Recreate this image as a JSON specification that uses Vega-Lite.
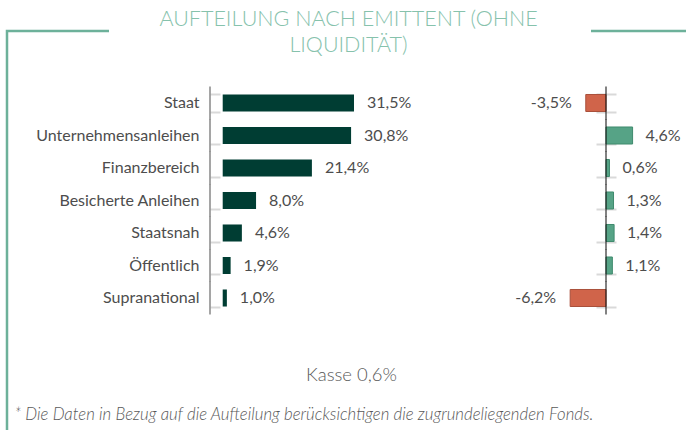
{
  "$schema": "https://vega.github.io/schema/vega-lite/v6.json",
  "width": 679,
  "height": 399,
  "autosize": {"type": "none"},
  "padding": {"left": 7, "top": 31, "right": 0, "bottom": 0},
  "background": "white",
  "title": {
    "text": ["AUFTEILUNG NACH EMITTENT (OHNE", "LIQUIDITÄT)"],
    "anchor": "middle",
    "frame": "group",
    "dx": 2,
    "font": "Lato",
    "fontSize": 21.5,
    "fontWeight": 300,
    "color": "#86C2AC",
    "lineHeight": 26,
    "offset": -25
  },
  "data": {
    "values": [
      {"cat": "Staat", "v": 0.315, "d": -0.035},
      {"cat": "Unternehmensanleihen", "v": 0.308, "d": 0.046},
      {"cat": "Finanzbereich", "v": 0.214, "d": 0.006},
      {"cat": "Besicherte Anleihen", "v": 0.080, "d": 0.013},
      {"cat": "Staatsnah", "v": 0.046, "d": 0.014},
      {"cat": "Öffentlich", "v": 0.019, "d": 0.011},
      {"cat": "Supranational", "v": 0.010, "d": -0.062}
    ]
  },
  "resolve": {
    "scale": {"x": "independent"},
    "axis": {"x": "independent", "y": "independent"}
  },
  "layer": [
    {
      "mark": {"type": "bar", "fill": "#003D33"},
      "encoding": {
        "y": {"field": "cat", "type": "nominal", "sort": null,
          "scale": {"domain": ["Staat", "Unternehmensanleihen", "Finanzbereich", "Besicherte Anleihen", "Staatsnah", "Öffentlich", "Supranational"], "range": [55.75, 283.25], "paddingInner": 0.476, "paddingOuter": 0.238},
          "axis": {"orient": "left", "offset": -203, "title": null, "domain": false, "ticks": false, "tickSize": 0, "labelPadding": 11, "labelFont": "Lato", "labelFontSize": 16, "labelColor": "#4D4D4D", "grid": false}},
        "x": {"field": "v", "type": "quantitative",
          "scale": {"domain": [-0.5175, 1.1115], "nice": false, "zero": false},
          "axis": {"orient": "bottom", "domain": false, "ticks": false, "labels": false, "grid": false,
            "title": "Kasse 0,6%", "titleFont": "Lato", "titleFontWeight": 300, "titleFontSize": 18.5, "titleColor": "#595959",
            "titleX": 344, "titleY": -50, "titleAlign": "center", "titleBaseline": "alphabetic"}},
        "x2": {"datum": 0}
      }
    },
    {
      "mark": {"type": "text", "align": "left", "baseline": "middle", "dx": 13, "font": "Lato", "fontSize": 16, "color": "#4D4D4D"},
      "encoding": {
        "y": {"field": "cat", "type": "nominal", "sort": null,
          "axis": {"orient": "right", "offset": -476, "title": null, "domain": false, "labels": false, "ticks": true, "tickBand": "extent", "tickSize": 10, "tickWidth": 2, "tickColor": "#D9D9D9", "grid": false}},
        "x": {"field": "v", "type": "quantitative",
          "scale": {"domain": [-0.5175, 1.1115], "nice": false, "zero": false},
          "axis": {"orient": "bottom", "domain": false, "ticks": false, "labels": false, "grid": false,
            "title": "* Die Daten in Bezug auf die Aufteilung berücksichtigen die zugrundeliegenden Fonds.",
            "titleFont": "Lato", "titleFontWeight": 300, "titleFontStyle": "italic", "titleFontSize": 16.8, "titleColor": "#595959",
            "titleX": 7, "titleY": -11, "titleAlign": "left", "titleBaseline": "alphabetic", "titleLimit": 1000}},
        "text": {"field": "v", "type": "quantitative", "format": ".1%"}
      }
    },
    {
      "mark": {"type": "tick", "orient": "vertical", "size": 33, "thickness": 2, "color": "#7F7F7F"},
      "encoding": {
        "y": {"field": "cat", "type": "nominal", "sort": null, "axis": null},
        "x": {"datum": -0.0305, "type": "quantitative",
          "scale": {"domain": [-0.5175, 1.1115], "nice": false, "zero": false}, "axis": null}
      }
    },
    {
      "mark": {"type": "bar", "strokeWidth": 1},
      "encoding": {
        "y": {"field": "cat", "type": "nominal", "sort": null,
          "axis": {"orient": "right", "offset": -80, "title": null, "domain": false, "labels": false, "ticks": true, "tickBand": "extent", "tickSize": 10, "tickWidth": 2, "tickColor": "#D9D9D9", "grid": false}},
        "x": {"field": "d", "type": "quantitative",
          "scale": {"domain": [-1.0363, 0.1384], "nice": false, "zero": false}, "axis": null},
        "x2": {"datum": 0},
        "fill": {"condition": {"test": "datum.d < 0", "value": "#D0644A"}, "value": "#56A386"},
        "stroke": {"condition": {"test": "datum.d < 0", "value": "#A9503B"}, "value": "#3F8A6D"}
      }
    },
    {
      "transform": [{"filter": "datum.d >= 0"}],
      "mark": {"type": "text", "align": "left", "baseline": "middle", "dx": 13, "font": "Lato", "fontSize": 16, "color": "#4D4D4D"},
      "encoding": {
        "y": {"field": "cat", "type": "nominal", "sort": null,
          "axis": {"orient": "left", "offset": -599, "title": null, "domain": false, "labels": false, "ticks": true, "tickBand": "extent", "tickSize": 10, "tickWidth": 2, "tickColor": "#D9D9D9", "grid": false}},
        "x": {"field": "d", "type": "quantitative",
          "scale": {"domain": [-1.0363, 0.1384], "nice": false, "zero": false}, "axis": null},
        "text": {"field": "d", "type": "quantitative", "format": ".1%"}
      }
    },
    {
      "transform": [{"filter": "datum.d < 0"}],
      "mark": {"type": "text", "align": "right", "baseline": "middle", "dx": -14, "font": "Lato", "fontSize": 16, "color": "#4D4D4D"},
      "encoding": {
        "y": {"field": "cat", "type": "nominal", "sort": null, "axis": null},
        "x": {"field": "d", "type": "quantitative",
          "scale": {"domain": [-1.0363, 0.1384], "nice": false, "zero": false}, "axis": null},
        "text": {"field": "d", "type": "quantitative", "format": ".1%"}
      }
    },
    {
      "mark": {"type": "tick", "orient": "vertical", "size": 33, "thickness": 1.5, "color": "#111111"},
      "encoding": {
        "y": {"field": "cat", "type": "nominal", "sort": null, "axis": null},
        "x": {"datum": 0, "type": "quantitative",
          "scale": {"domain": [-1.0363, 0.1384], "nice": false, "zero": false}, "axis": null}
      }
    }
  ],
  "config": {
    "font": "Lato",
    "view": {"stroke": "#6DB19A", "strokeWidth": 2.5, "strokeDash": [102, 482, 95, 1078, 420]},
    "locale": {
      "number": {"decimal": ",", "thousands": ".", "grouping": [3], "currency": ["", " €"], "minus": "-", "percent": "%"}
    }
  }
}
